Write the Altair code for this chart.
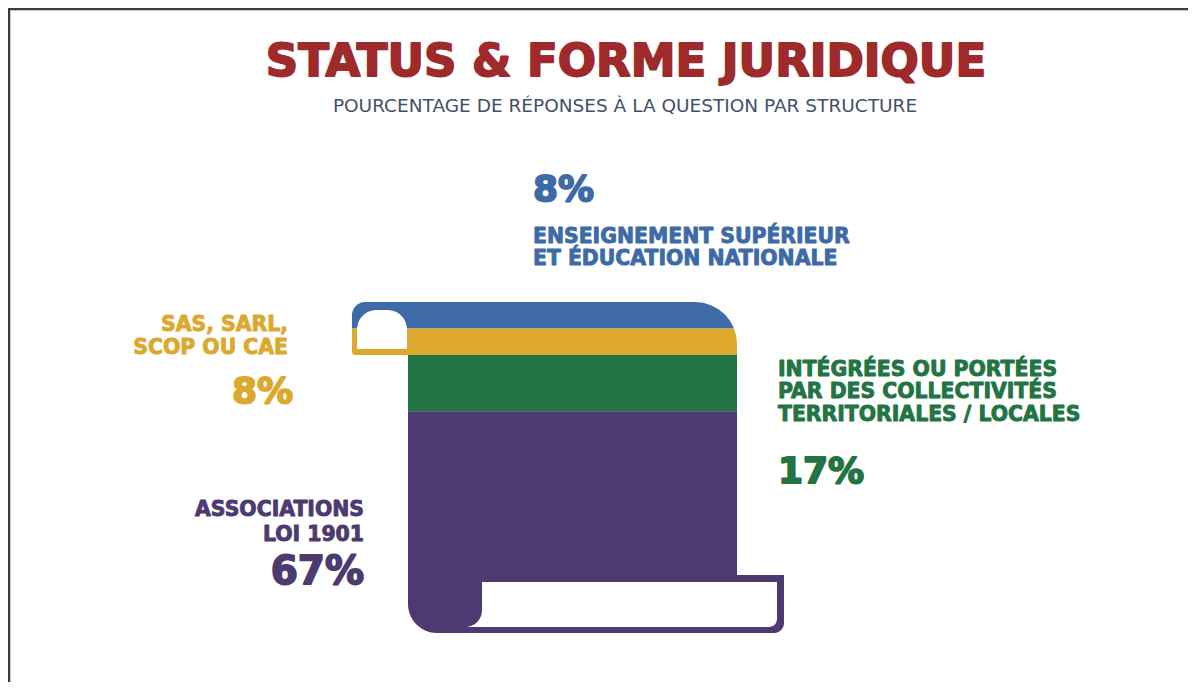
import math
import altair as alt
import pandas as pd

# ---------------- data ----------------
categories = [
    "Associations loi 1901",
    "Intégrées ou portées par des collectivités territoriales / locales",
    "SAS, SARL, SCOP ou CAE",
    "Enseignement supérieur et éducation nationale",
]
values = [67, 17, 8, 8]                      # % of answers, stacked bottom -> top
value_labels = ["67%", "17%", "8%", "8%"]
label_lines = [
    ["ASSOCIATIONS", "LOI 1901"],
    ["INTÉGRÉES OU PORTÉES", "PAR DES COLLECTIVITÉS", "TERRITORIALES / LOCALES"],
    ["SAS, SARL,", "SCOP OU CAE"],
    ["ENSEIGNEMENT SUPÉRIEUR", "ET ÉDUCATION NATIONALE"],
]
colors = ["#4c3a70", "#227443", "#dca82e", "#3e6aa8"]
title_text = "STATUS & FORME JURIDIQUE"
subtitle_text = "POURCENTAGE DE RÉPONSES À LA QUESTION PAR STRUCTURE"

# ---------------- layout ----------------
W, H = 1180, 674
FONT = "DejaVu Sans"
xs = alt.Scale(domain=[0, W], range=[0, W], nice=False, zero=False)
ys = alt.Scale(domain=[-14.8, 188.8], nice=False, zero=False)
BAR_X0, BAR_X1 = 400, 729
CURL_X0 = 344
TOP_RADIUS = 42

# stacked segments
cum = 0
seg_rows = []
for i, (c, v, col) in enumerate(zip(categories, values, colors)):
    seg_rows.append(dict(cat=c, y0=cum, y1=cum + v, color=col,
                         x0=CURL_X0 if i >= 2 else BAR_X0, x1=BAR_X1))
    cum += v
segs = pd.DataFrame(seg_rows)
total = cum


def X(f):
    return alt.X(f, type="quantitative", scale=xs, axis=None)


def Y(f):
    return alt.Y(f, type="quantitative", scale=ys, axis=None)


def seg_layer(i, **radii):
    return alt.Chart(segs.iloc[[i]]).mark_bar(**radii).encode(
        x=X("x0"), x2="x1", y=Y("y0"), y2="y1",
        color=alt.Color("color:N", scale=None))


def shape(df, color, **props):
    return alt.Chart(pd.DataFrame([df])).mark_bar(color=color, **props).encode(
        x=X("x0"), x2="x1", y=Y("y0"), y2="y1")


def mask_arc(cx, cy, r_in, r_out, t0, t1):
    return alt.Chart(pd.DataFrame([dict(x=cx, y=cy)])).mark_arc(
        color="white", theta=t0, theta2=t1, innerRadius=r_in, outerRadius=r_out
    ).encode(x=X("x"), y=Y("y"))


purple = colors[0]
bottom_top = 17.5
layers = [
    seg_layer(3, cornerRadiusTopLeft=24),
    seg_layer(2, cornerRadiusBottomLeft=3),
    seg_layer(1),
    seg_layer(0, cornerRadiusBottomLeft=35),
    # bottom roll of the scroll
    shape(dict(x0=BAR_X0, x1=776, y0=0, y1=bottom_top), purple,
          cornerRadiusBottomLeft=35, cornerRadiusBottomRight=10),
    shape(dict(x0=474, x1=769, y0=1.8, y1=15.4), "white", cornerRadiusBottomRight=8),
    mask_arc(457, 6.9, 17, 25, math.pi / 2, math.pi),
    shape(dict(x0=450, x1=762, y0=0, y1=1.8), purple),
    # top curl of the scroll
    shape(dict(x0=349, x1=399, y0=85.8, y1=97.6), "white",
          cornerRadiusTopLeft=22, cornerRadiusTopRight=22),
    mask_arc(BAR_X1 - TOP_RADIUS, total - TOP_RADIUS / 3.31,
             TOP_RADIUS, TOP_RADIUS * 1.45, 0, math.pi / 2),
]

# ---------------- texts ----------------
text_layout = [
    dict(x=356, align="right", lines_v=[37.2, 29.6], pct_x=356, pct_v=18.4, pct_size=39),
    dict(x=770, align="left", lines_v=[79.5, 72.8, 65.9], pct_x=770, pct_v=48.6, pct_size=36),
    dict(x=280, align="right", lines_v=[93.1, 86.1], pct_x=285, pct_v=72.8, pct_size=36),
    dict(x=525, align="left", lines_v=[119.6, 113.0], pct_x=525, pct_v=133.8, pct_size=36),
]
text_rows = []
for i, lay in enumerate(text_layout):
    for line, v in zip(label_lines[i], lay["lines_v"]):
        text_rows.append(dict(x=lay["x"], y=v, text=line, size=20.4, color=colors[i],
                              align=lay["align"], sw=0.9))
    text_rows.append(dict(x=lay["pct_x"], y=lay["pct_v"], text=value_labels[i],
                          size=lay["pct_size"], color=colors[i], align=lay["align"], sw=1.8))
texts = pd.DataFrame(text_rows)

for al in ["left", "right"]:
    layers.append(
        alt.Chart(texts[texts["align"] == al]).mark_text(
            align=al, baseline="middle", font=FONT, fontWeight="bold", strokeJoin="round"
        ).encode(x=X("x"), y=Y("y"), text="text:N",
                 size=alt.Size("size:Q", scale=None),
                 color=alt.Color("color:N", scale=None),
                 stroke=alt.Stroke("color:N", scale=None),
                 strokeWidth=alt.StrokeWidth("sw:Q", scale=None)))

heads = pd.DataFrame([
    dict(x=618, y=172.5, text=title_text, size=45, color="#9e2a2b"),
])
layers.append(alt.Chart(heads).mark_text(
    align="center", baseline="middle", font=FONT, fontWeight="bold",
    stroke="#9e2a2b", strokeWidth=1.8, strokeJoin="round"
).encode(x=X("x"), y=Y("y"), text="text:N", size=alt.Size("size:Q", scale=None),
         color=alt.Color("color:N", scale=None)))
subs = pd.DataFrame([dict(x=625 - 8, y=159.2, text=subtitle_text, size=18.5, color="#42506a")])
layers.append(alt.Chart(subs).mark_text(
    align="center", baseline="middle", font=FONT, fontWeight="normal"
).encode(x=X("x"), y=Y("y"), text="text:N", size=alt.Size("size:Q", scale=None),
         color=alt.Color("color:N", scale=None)))

# frame (left and top edges of the card)
frame = pd.DataFrame({"edge": ["left", "top"]})
layers.append(alt.Chart(frame).transform_filter(alt.datum.edge == "left").mark_rule(
    color="#3a3a3a", strokeWidth=2.5).encode(
    x=alt.value(1), y=alt.value(0), y2=alt.value(H)))
layers.append(alt.Chart(frame).transform_filter(alt.datum.edge == "top").mark_rule(
    color="#3a3a3a", strokeWidth=2.5).encode(
    x=alt.value(0), x2=alt.value(W), y=alt.value(1)))

chart = alt.layer(*layers).properties(
    width=W, height=H, padding=0, autosize=alt.AutoSizeParams(type="none"),
    background="white"
).configure_view(stroke=None)

chart.save("out.html", embed_options={"renderer": "svg", "actions": False})
